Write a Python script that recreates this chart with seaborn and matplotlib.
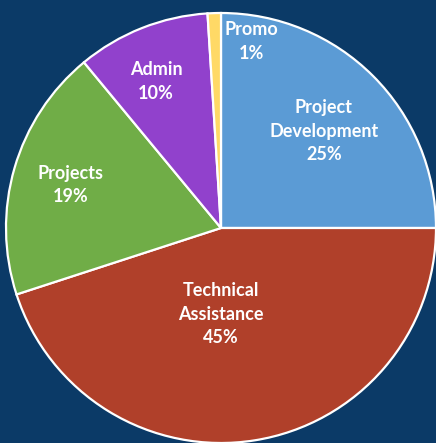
import matplotlib
matplotlib.use("Agg")
import matplotlib.pyplot as plt
import seaborn as sns

categories = ["Project\nDevelopment", "Technical\nAssistance", "Projects", "Admin", "Promo"]
values = [25, 45, 19, 10, 1]
colors = ["#5B9BD5", "#B0402A", "#70AD47", "#9141CC", "#FFD966"]
label_pos = [(0.479, 0.451), (0.0, -0.40), (-0.698, 0.2), (-0.302, 0.682), (0.14, 0.867)]

sns.set_theme(style="white")
plt.rcParams['font.family'] = ['Lato', 'DejaVu Sans']

bg = "#0B3A67"
fig = plt.figure(figsize=(4.36, 4.43), dpi=100, facecolor=bg)
ax = fig.add_axes([0, 0, 1, 1])
ax.set_facecolor(bg)

ax.pie(values, colors=colors, startangle=90, counterclock=False, radius=1.0,
       wedgeprops=dict(edgecolor="white", linewidth=1.6))

R = 215.0
ax.set_xlim(-221 / R, (436 - 221) / R)
ax.set_ylim(-(443 - 228) / R, 228 / R)
ax.set_aspect("auto")
ax.axis("off")

for cat, v, (x, y) in zip(categories, values, label_pos):
    ax.text(x, y, f"{cat}\n{v}%", ha="center", va="center", color="white",
            fontsize=13, fontweight="bold", linespacing=1.45)

fig.savefig("out.png", dpi=100, facecolor=bg)
